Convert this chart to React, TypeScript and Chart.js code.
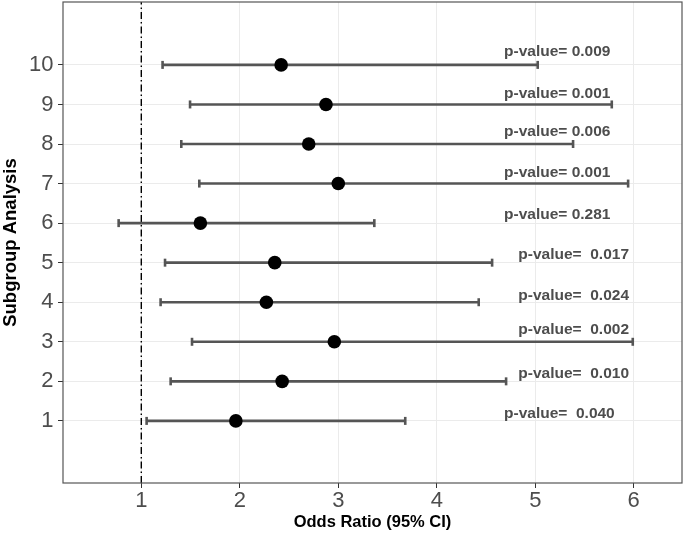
import React, { useEffect, useRef } from "react";
import { Chart, registerables } from "chart.js";

Chart.register(...registerables);

// Subgroups (rows 1..10)
const subgroups = [1, 2, 3, 4, 5, 6, 7, 8, 9, 10];
const oddsRatio = [1.96, 2.43, 2.96, 2.27, 2.355, 1.6, 3.0, 2.7, 2.875, 2.42];
const ciLower = [1.054, 1.298, 1.515, 1.196, 1.241, 0.77, 1.589, 1.406, 1.495, 1.216];
const ciUpper = [3.68, 4.704, 5.99, 4.426, 4.562, 3.366, 5.943, 5.384, 5.777, 5.025];
const pValueLabels = [
  "p-value=  0.040",
  "p-value=  0.010",
  "p-value=  0.002",
  "p-value=  0.024",
  "p-value=  0.017",
  "p-value= 0.281",
  "p-value= 0.001",
  "p-value= 0.006",
  "p-value= 0.001",
  "p-value= 0.009",
];
const labelX = [5.245, 5.39, 5.39, 5.39, 5.39, 5.223, 5.223, 5.223, 5.223, 5.223];
const labelY = [1.19, 2.19, 3.3, 4.17, 5.19, 6.21, 7.28, 8.3, 9.28, 10.33];
const xTicks = [1, 2, 3, 4, 5, 6];
const yTicks = [1, 2, 3, 4, 5, 6, 7, 8, 9, 10];
const refLineX = 1;
const xMin = 0.205;
const xMax = 6.49;
const yMin = -0.57;
const yMax = 11.59;

const FONT = '"Liberation Sans", Arial, Helvetica, sans-serif';

const pValuePlugin = {
  id: "pValueLabels",
  afterDatasetsDraw(chart: any) {
    const { ctx, scales } = chart;
    const x = scales.x;
    const y = scales.y;
    ctx.save();
    ctx.font = `bold 15.5px ${FONT}`;
    ctx.fillStyle = "#4d4d4d";
    ctx.textAlign = "center";
    ctx.textBaseline = "middle";
    pValueLabels.forEach((t, i) => {
      ctx.fillText(t, x.getPixelForValue(labelX[i]), y.getPixelForValue(labelY[i]));
    });
    ctx.restore();
  },
};

const framePlugin = {
  id: "panelFrame",
  afterDatasetsDraw(chart: any) {
    const { ctx, chartArea } = chart;
    ctx.save();
    ctx.strokeStyle = "#555555";
    ctx.lineWidth = 1.2;
    ctx.strokeRect(
      chartArea.left,
      chartArea.top,
      chartArea.right - chartArea.left,
      chartArea.bottom - chartArea.top
    );
    ctx.restore();
  },
};

const zeroPadding = (s: any) => {
  s.paddingTop = 0;
  s.paddingBottom = 0;
  s.paddingLeft = 0;
  s.paddingRight = 0;
};

export default function App() {
  const canvasRef = useRef<HTMLCanvasElement | null>(null);

  useEffect(() => {
    if (!canvasRef.current) return;

    const errorBarSets = subgroups.map((row, i) => ({
      type: "line" as const,
      data: [
        { x: ciLower[i], y: row },
        { x: ciUpper[i], y: row },
      ],
      borderColor: "#555555",
      borderWidth: 2.6,
      pointStyle: "line" as const,
      pointRotation: 90,
      pointRadius: 4,
      pointBorderWidth: 2.6,
      pointBorderColor: "#555555",
      pointBackgroundColor: "#555555",
      pointHoverRadius: 4,
      fill: false,
      order: 2,
    }));

    const chart = new Chart(canvasRef.current, {
      type: "scatter",
      data: {
        datasets: [
          {
            type: "scatter",
            data: subgroups.map((row, i) => ({ x: oddsRatio[i], y: row })),
            backgroundColor: "#000000",
            borderColor: "#000000",
            borderWidth: 0,
            pointRadius: 6.8,
            pointHoverRadius: 6.8,
            order: 1,
          } as any,
          ...errorBarSets,
          {
            type: "line",
            data: [
              { x: refLineX, y: yMin },
              { x: refLineX, y: yMax },
            ],
            borderColor: "#000000",
            borderWidth: 1.4,
            borderDash: [7, 3, 1.5, 3],
            pointRadius: 0,
            fill: false,
            order: 3,
          } as any,
        ],
      },
      options: {
        responsive: false,
        animation: false,
        events: [],
        layout: { autoPadding: false, padding: { top: 2, right: 3, left: 0, bottom: 0 } },
        plugins: {
          legend: { display: false },
          tooltip: { enabled: false },
          title: { display: false },
        },
        scales: {
          x: {
            type: "linear",
            position: "bottom",
            min: xMin,
            max: xMax,
            afterBuildTicks: (s: any) => {
              s.ticks = xTicks.map((v) => ({ value: v }));
            },
            afterFit: (s: any) => {
              s.height = 51;
              zeroPadding(s);
            },
            grid: {
              color: "#ebebeb",
              lineWidth: 1,
              drawTicks: true,
              tickLength: 5,
              tickColor: "#333333",
              tickWidth: 1,
            },
            border: { display: false },
            ticks: {
              font: { family: FONT, size: 22 },
              color: "#4d4d4d",
              padding: 0,
              maxRotation: 0,
              autoSkip: false,
            },
            title: {
              display: true,
              text: "Odds Ratio (95% CI)",
              font: { family: FONT, size: 16.5, weight: "bold" },
              color: "#000000",
              padding: { top: 0, bottom: 2 },
            },
          },
          y: {
            type: "linear",
            position: "left",
            min: yMin,
            max: yMax,
            afterBuildTicks: (s: any) => {
              s.ticks = yTicks.map((v) => ({ value: v }));
            },
            afterFit: (s: any) => {
              s.width = 63;
              zeroPadding(s);
            },
            grid: {
              color: "#ebebeb",
              lineWidth: 1,
              drawTicks: true,
              tickLength: 5,
              tickColor: "#333333",
              tickWidth: 1,
            },
            border: { display: false },
            ticks: {
              font: { family: FONT, size: 22 },
              color: "#4d4d4d",
              padding: 4.5,
              autoSkip: false,
            },
            title: {
              display: true,
              text: "Subgroup Analysis",
              font: { family: FONT, size: 18.5, weight: "bold" },
              color: "#000000",
              padding: { top: 0, bottom: 0 },
            },
          },
        },
      } as any,
      plugins: [pValuePlugin, framePlugin],
    });

    return () => {
      chart.destroy();
    };
  }, []);

  return (
    <div
      style={{
        position: "fixed",
        left: 0,
        top: 0,
        width: 685,
        height: 534,
        background: "#ffffff",
      }}
    >
      <canvas ref={canvasRef} width={685} height={534} style={{ display: "block" }} />
    </div>
  );
}
